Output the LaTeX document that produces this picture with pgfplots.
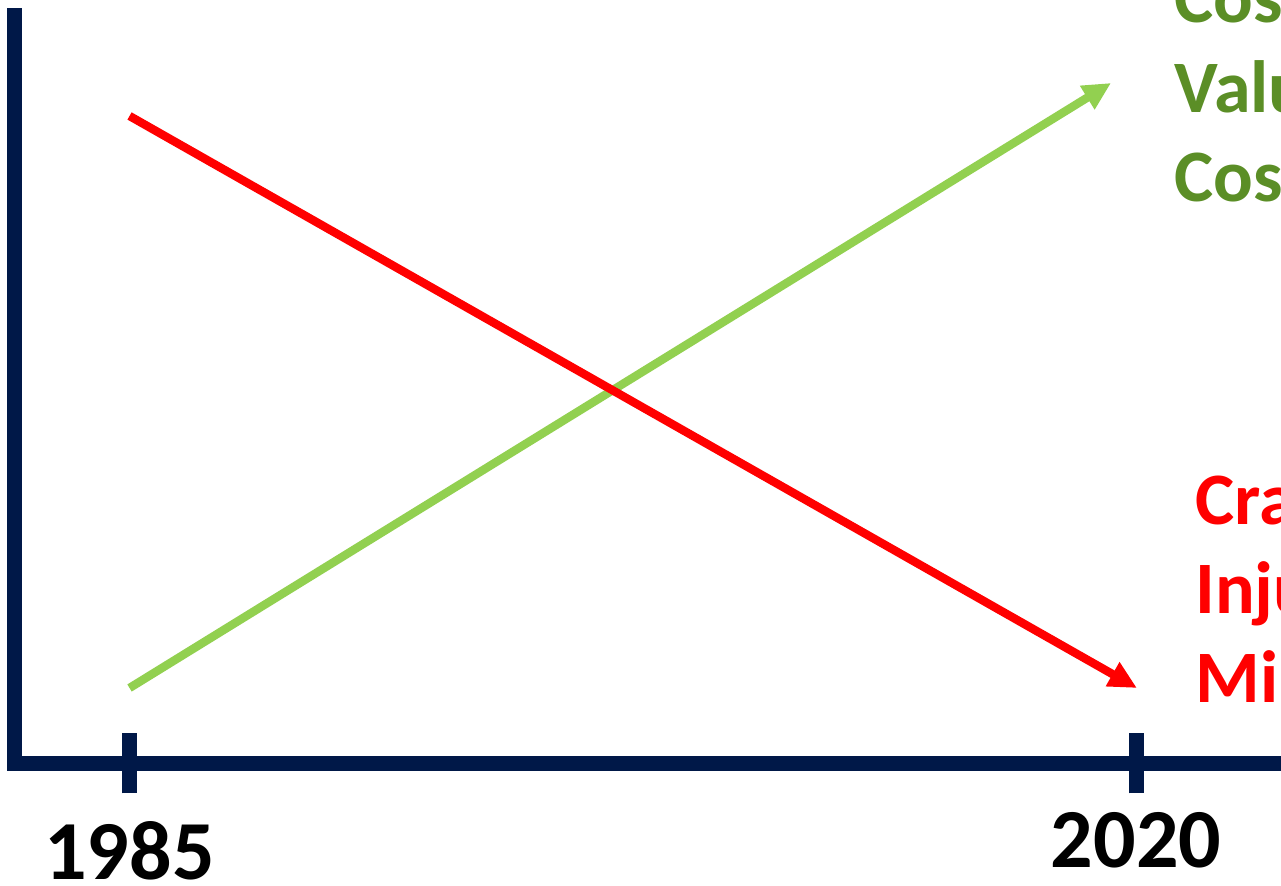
\documentclass[border=0pt]{standalone}
\usepackage{fontspec}
\setmainfont{Carlito}
\usepackage{pgfplots}
\pgfplotsset{compat=1.18}
\usetikzlibrary{arrows.meta}
\definecolor{navy}{RGB}{0,24,72}
\definecolor{lgreen}{HTML}{92D050}
\definecolor{dgreen}{RGB}{91,142,38}
\begin{document}
\begin{tikzpicture}
\useasboundingbox (0,0) rectangle (640.5pt,443pt);
\clip (0,0) rectangle (640.5pt,443pt);
\begin{axis}[
  at={(7.25pt,61.25pt)}, anchor=south west,
  scale only axis, width=633.25pt, height=374pt,
  xmin=1981, xmax=2025.04, ymin=0, ymax=74.8,
  axis lines=left,
  axis line style={-, line width=7.5pt, color=navy, line cap=rect},
  every outer x axis line/.append style={-},
  every outer y axis line/.append style={-},
  xtick={1985,2020}, ytick=\empty,
  xticklabels={{},{}},
  tick align=center,
  major tick length=30pt,
  xtick style={line width=7.5pt, color=navy},
  clip=false,
]
\addplot[lgreen, line width=4.2pt, -{Triangle[length=14pt,width=13pt]}] coordinates {(1985,7.55) (2019.13,68.05)};
\addplot[red, line width=4.2pt, -{Triangle[length=14pt,width=13pt]}] coordinates {(1985,64.75) (2020.03,7.55)};
\node[anchor=base, inner sep=0pt, font=\bfseries\fontsize{42pt}{50pt}\selectfont] at (axis cs:1985,-11.65) {1985};
\node[anchor=base, inner sep=0pt, font=\bfseries\fontsize{42pt}{50pt}\selectfont] at (axis cs:2020,-10.45) {2020};
\begin{scope}[every node/.style={anchor=base west, inner sep=0pt, font=\bfseries\fontsize{37pt}{44pt}\selectfont}]
\node[text=dgreen] at (axis cs:2021.32,74.05) {Cost};
\node[text=dgreen] at (axis cs:2021.32,65.05) {Value};
\node[text=dgreen] at (axis cs:2021.32,56.15) {Cost};
\node[text=red] at (axis cs:2022.05,23.85) {Crashes};
\node[text=red] at (axis cs:2022.05,14.95) {Injuries};
\node[text=red] at (axis cs:2022.05,6.05) {Minutes};
\end{scope}
\end{axis}
\end{tikzpicture}
\end{document}
